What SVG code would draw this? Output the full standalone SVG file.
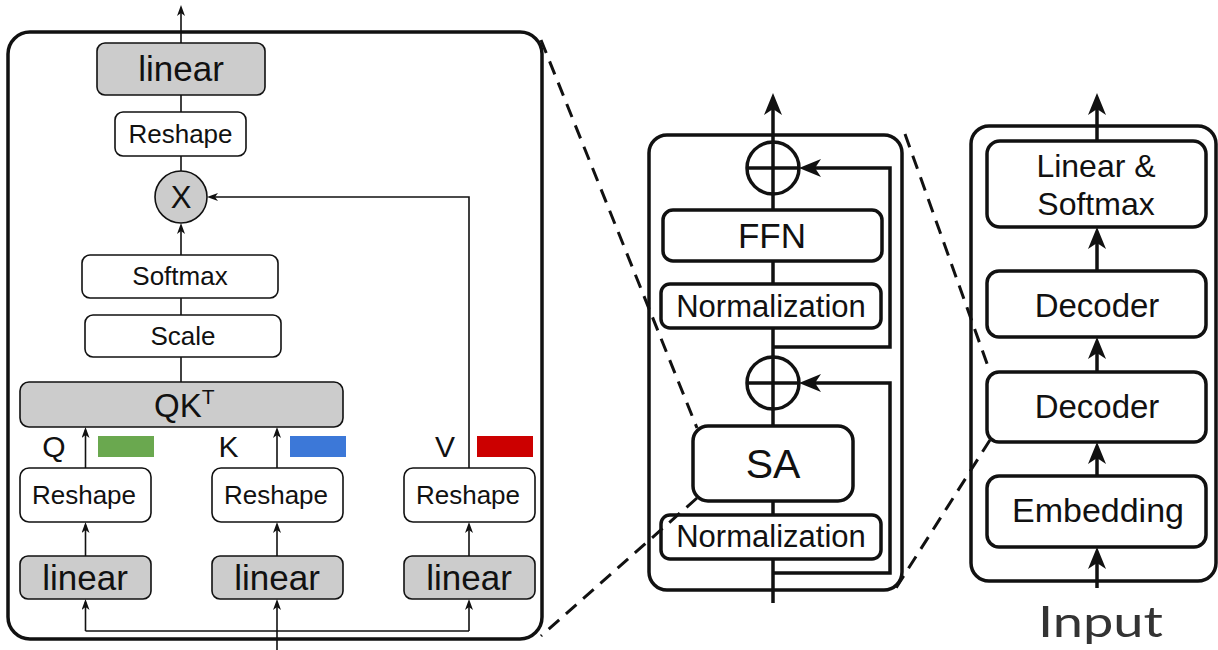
<svg xmlns="http://www.w3.org/2000/svg" width="1218" height="650" viewBox="0 0 1218 650">
  <style>
    text { font-family: "Liberation Sans", Arial, sans-serif; fill: #111; text-anchor: middle; }
    .thin { fill: #fff; stroke: #111; stroke-width: 1.6; }
    .thin.grey { fill: #cccccc; }
    .thick { fill: #fff; stroke: #111; stroke-width: 3.5; }
    .panel { fill: none; stroke: #111; stroke-width: 3.5; }
    .ln { fill: none; stroke: #111; stroke-width: 1.6; }
    .lnb { fill: none; stroke: #111; stroke-width: 3.5; }
    .zoom { fill: none; stroke: #111; stroke-width: 3; stroke-dasharray: 14 9; }
    .t26 { font-size: 26px; }
    .t35 { font-size: 35px; }
  </style>
  <defs>
    <marker id="arrS" viewBox="0 0 11 8" refX="8" refY="4" markerWidth="11" markerHeight="8" orient="auto" markerUnits="userSpaceOnUse">
      <path d="M0,0 L11,4 L0,8 L3,4 z" fill="#111"/>
    </marker>
    <marker id="arrL" viewBox="0 0 22 18" refX="14" refY="9" markerWidth="22" markerHeight="18" orient="auto" markerUnits="userSpaceOnUse">
      <path d="M0,0 L22,9 L0,18 L6,9 z" fill="#111"/>
    </marker>
  </defs>

  <rect width="1218" height="650" fill="#fff"/>

  <!-- attention detail panel -->
  <rect id="attention-panel" class="panel" x="8" y="32" width="534" height="607" rx="22"/>

  <g id="connectors">
    <!-- attention panel wiring -->
    <line class="ln" x1="181" y1="43" x2="181" y2="8" marker-end="url(#arrS)"/>
    <line class="ln" x1="181" y1="95" x2="181" y2="112"/>
    <line class="ln" x1="181" y1="156" x2="181" y2="171"/>
    <line class="ln" x1="181" y1="255" x2="181" y2="226" marker-end="url(#arrS)"/>
    <line class="ln" x1="181" y1="298" x2="181" y2="315"/>
    <line class="ln" x1="181" y1="357" x2="181" y2="382"/>
    <polyline class="ln" points="469,468 469,197 210,197" marker-end="url(#arrS)"/>
    <line class="ln" x1="85.5" y1="468" x2="85.5" y2="430" marker-end="url(#arrS)"/>
    <line class="ln" x1="277" y1="468" x2="277" y2="430" marker-end="url(#arrS)"/>
    <line class="ln" x1="85.5" y1="556" x2="85.5" y2="525" marker-end="url(#arrS)"/>
    <line class="ln" x1="277" y1="556" x2="277" y2="525" marker-end="url(#arrS)"/>
    <line class="ln" x1="469" y1="556" x2="469" y2="525" marker-end="url(#arrS)"/>
    <line class="ln" x1="277" y1="650" x2="277" y2="602" marker-end="url(#arrS)"/>
    <line class="ln" x1="85.5" y1="631" x2="469" y2="631"/>
    <line class="ln" x1="85.5" y1="631" x2="85.5" y2="602" marker-end="url(#arrS)"/>
    <line class="ln" x1="469" y1="631" x2="469" y2="602" marker-end="url(#arrS)"/>

    <!-- decoder block wiring -->
    <line class="lnb" x1="773" y1="603" x2="773" y2="101" marker-end="url(#arrL)"/>
    <polyline class="lnb" points="773,347 890,347 890,168 807,168" marker-end="url(#arrL)"/>
    <polyline class="lnb" points="773,573 890,573 890,383 807,383" marker-end="url(#arrL)"/>

    <!-- model stack wiring -->
    <line class="lnb" x1="1097" y1="141" x2="1097" y2="101" marker-end="url(#arrL)"/>
    <line class="lnb" x1="1097" y1="271" x2="1097" y2="235" marker-end="url(#arrL)"/>
    <line class="lnb" x1="1097" y1="372" x2="1097" y2="345" marker-end="url(#arrL)"/>
    <line class="lnb" x1="1097" y1="476" x2="1097" y2="450" marker-end="url(#arrL)"/>
    <line class="lnb" x1="1097" y1="588" x2="1097" y2="555" marker-end="url(#arrL)"/>
  </g>

  <!-- attention panel nodes -->
  <g id="out-linear">
    <rect class="thin grey" x="97" y="43" width="168" height="52" rx="8"/>
    <text class="t35" x="181" y="81">linear</text>
  </g>
  <g id="out-reshape">
    <rect class="thin" x="115" y="112" width="131" height="44" rx="8"/>
    <text class="t26" x="180.5" y="143">Reshape</text>
  </g>
  <g id="matmul">
    <circle class="thin grey" cx="181" cy="197" r="26"/>
    <text x="181" y="208" style="font-size:31px">X</text>
  </g>
  <g id="softmax">
    <rect class="thin" x="82" y="255" width="196" height="43" rx="8"/>
    <text class="t26" x="180" y="285">Softmax</text>
  </g>
  <g id="scale">
    <rect class="thin" x="85" y="315" width="196" height="42" rx="8"/>
    <text class="t26" x="183" y="345">Scale</text>
  </g>
  <g id="qkt">
    <rect class="thin grey" x="20" y="382" width="323" height="45" rx="9"/>
    <text x="154" y="417" style="font-size:33px;text-anchor:start">QK<tspan dy="-13" style="font-size:21px">T</tspan></text>
  </g>
  <g id="q-label">
    <text x="54" y="457" style="font-size:30px">Q</text>
    <rect x="98" y="436" width="56" height="21" fill="#6aa84f"/>
  </g>
  <g id="k-label">
    <text x="228.5" y="457" style="font-size:30px">K</text>
    <rect x="290" y="436" width="56" height="21" fill="#3c78d8"/>
  </g>
  <g id="v-label">
    <text x="445" y="457" style="font-size:30px">V</text>
    <rect x="477" y="436" width="56" height="21" fill="#cc0000"/>
  </g>
  <g id="q-reshape">
    <rect class="thin" x="20" y="468" width="131" height="54" rx="9"/>
    <text class="t26" x="84" y="504">Reshape</text>
  </g>
  <g id="k-reshape">
    <rect class="thin" x="212" y="468" width="131" height="54" rx="9"/>
    <text class="t26" x="276" y="504">Reshape</text>
  </g>
  <g id="v-reshape">
    <rect class="thin" x="404" y="468" width="131" height="54" rx="9"/>
    <text class="t26" x="468" y="504">Reshape</text>
  </g>
  <g id="q-linear">
    <rect class="thin grey" x="20" y="556" width="131" height="43" rx="8"/>
    <text class="t35" x="85" y="590">linear</text>
  </g>
  <g id="k-linear">
    <rect class="thin grey" x="212" y="556" width="131" height="43" rx="8"/>
    <text class="t35" x="277" y="590">linear</text>
  </g>
  <g id="v-linear">
    <rect class="thin grey" x="404" y="556" width="131" height="43" rx="8"/>
    <text class="t35" x="469" y="590">linear</text>
  </g>

  <!-- decoder block -->
  <rect id="decoder-panel" class="panel" x="649" y="135" width="253" height="455" rx="18"/>
  <g id="add-top">
    <circle cx="773" cy="168" r="26" fill="none" stroke="#111" stroke-width="3.5"/>
    <line class="lnb" x1="747" y1="168" x2="799" y2="168"/>
  </g>
  <g id="ffn">
    <rect class="thick" x="663" y="210" width="219" height="51" rx="10"/>
    <text x="772" y="248" style="font-size:35px">FFN</text>
  </g>
  <g id="norm-top">
    <rect class="thick" x="661" y="284" width="220" height="44" rx="9"/>
    <text x="771" y="317" style="font-size:31px">Normalization</text>
  </g>
  <g id="add-bottom">
    <circle cx="773" cy="383" r="26" fill="none" stroke="#111" stroke-width="3.5"/>
    <line class="lnb" x1="747" y1="383" x2="799" y2="383"/>
  </g>
  <g id="sa">
    <rect class="thick" x="693" y="426" width="160" height="75" rx="15"/>
    <text x="773" y="478" style="font-size:41px">SA</text>
  </g>
  <g id="norm-bottom">
    <rect class="thick" x="661" y="515" width="220" height="44" rx="9"/>
    <text x="771" y="547" style="font-size:31px">Normalization</text>
  </g>

  <!-- model stack -->
  <rect id="model-panel" class="panel" x="971" y="126" width="245" height="455" rx="18"/>
  <g id="linear-softmax">
    <rect class="thick" x="987" y="141" width="219" height="86" rx="13"/>
    <text x="1096" y="177" style="font-size:32px">Linear &amp;</text>
    <text x="1096" y="215" style="font-size:32px">Softmax</text>
  </g>
  <g id="decoder-2">
    <rect class="thick" x="987" y="271" width="219" height="66" rx="12"/>
    <text x="1097" y="317" style="font-size:33px">Decoder</text>
  </g>
  <g id="decoder-1">
    <rect class="thick" x="987" y="372" width="219" height="70" rx="12"/>
    <text x="1097" y="418" style="font-size:33px">Decoder</text>
  </g>
  <g id="embedding">
    <rect class="thick" x="987" y="476" width="219" height="71" rx="12"/>
    <text x="1098" y="522" style="font-size:34px">Embedding</text>
  </g>
  <g id="input">
    <text x="1100.5" y="637" textLength="125" lengthAdjust="spacingAndGlyphs" style="font-family:Lato,'Open Sans',sans-serif;font-weight:400;font-size:43px;fill:#333">Input</text>
  </g>

  <!-- zoom-out guides -->
  <g id="zoom-guides">
    <line class="zoom" x1="541" y1="40" x2="697" y2="428"/>
    <line class="zoom" x1="697" y1="498" x2="541" y2="636"/>
    <line class="zoom" x1="905" y1="134" x2="990" y2="372"/>
    <line class="zoom" x1="990" y1="440" x2="896" y2="588"/>
  </g>
</svg>
